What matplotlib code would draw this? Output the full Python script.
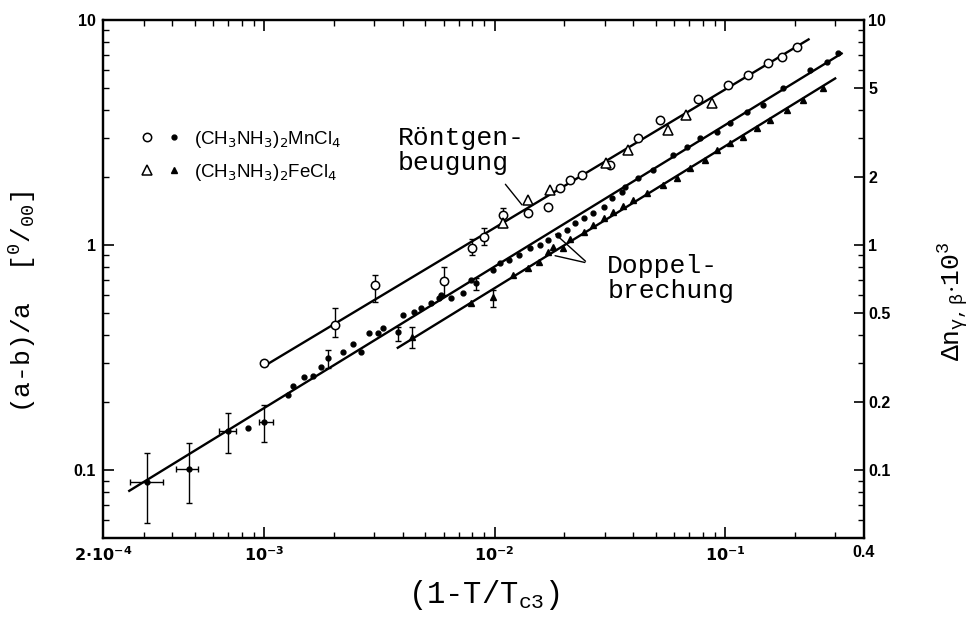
import numpy as np
import matplotlib.pyplot as plt
from matplotlib.ticker import FixedLocator, FixedFormatter, NullFormatter
from matplotlib.legend_handler import HandlerTuple

plt.rcParams['mathtext.fontset'] = 'custom'
plt.rcParams['mathtext.rm'] = 'Liberation Mono'
plt.rcParams['mathtext.it'] = 'Liberation Mono'
plt.rcParams['mathtext.bf'] = 'Liberation Mono:bold'
plt.rcParams['axes.linewidth'] = 1.6

# Roentgenbeugung, (CH3NH3)2MnCl4 (open circles)
mn_xray_x = [1.0e-3, 2.03e-3, 3.03e-3, 6.0e-3, 8.0e-3, 8.95e-3, 0.0109, 0.0139, 0.017,
             0.0193, 0.0213, 0.024, 0.0318, 0.042, 0.0523, 0.0764, 0.103, 0.126,
             0.153, 0.177, 0.205]
mn_xray_y = [0.30, 0.441, 0.664, 0.69, 0.97, 1.09, 1.36, 1.39, 1.47,
             1.79, 1.94, 2.05, 2.27, 2.99, 3.59, 4.46, 5.14, 5.7,
             6.44, 6.85, 7.59]
# error bars of the x-ray points (lower, upper value)
mn_xray_err_x = [2.03e-3, 3.03e-3, 6.0e-3, 8.0e-3, 8.95e-3, 0.0109]
mn_xray_err_y = [0.441, 0.664, 0.69, 0.97, 1.09, 1.36]
mn_xray_err_lo = [0.39, 0.558, 0.60, 0.90, 1.0, 1.2]
mn_xray_err_hi = [0.525, 0.736, 0.80, 1.07, 1.19, 1.46]

# Roentgenbeugung, (CH3NH3)2FeCl4 (open triangles)
fe_xray_x = [0.0109, 0.0139, 0.01746, 0.0303, 0.038, 0.0566, 0.0678, 0.0879]
fe_xray_y = [1.25, 1.58, 1.76, 2.31, 2.64, 3.25, 3.79, 4.28]

# Doppelbrechung, (CH3NH3)2MnCl4 (dots)
mn_bi_x = [8.5e-4, 1.27e-3, 1.34e-3, 1.49e-3, 1.63e-3, 1.77e-3, 2.2e-3, 2.43e-3,
           2.63e-3, 2.85e-3, 3.12e-3, 3.27e-3, 4.0e-3, 4.46e-3, 4.78e-3, 5.29e-3,
           5.73e-3, 5.83e-3, 6.45e-3, 7.27e-3, 7.87e-3, 9.8e-3, 0.0106, 0.0115,
           0.0127, 0.0143, 0.0158, 0.0171, 0.0189, 0.0207, 0.0224, 0.0243, 0.0268,
           0.0297, 0.0324, 0.0358, 0.0369, 0.042, 0.0488, 0.0596, 0.0685, 0.078,
           0.0923, 0.105, 0.124, 0.146, 0.178, 0.233, 0.277, 0.308]
mn_bi_y = [0.154, 0.216, 0.236, 0.259, 0.262, 0.287, 0.334, 0.363,
           0.334, 0.406, 0.406, 0.428, 0.489, 0.504, 0.525, 0.552,
           0.581, 0.60, 0.581, 0.612, 0.699, 0.774, 0.832, 0.857,
           0.903, 0.97, 1.0, 1.05, 1.11, 1.17, 1.25, 1.32, 1.39,
           1.47, 1.62, 1.72, 1.81, 1.99, 2.15, 2.51, 2.73, 2.99,
           3.18, 3.49, 3.9, 4.19, 4.99, 6.0, 6.5, 7.13]
# dots with error crosses
mn_bi_err_x = [3.1e-4, 4.7e-4, 7.0e-4, 1.0e-3, 1.89e-3, 3.8e-3, 8.28e-3]
mn_bi_err_y = [0.0885, 0.101, 0.149, 0.163, 0.315, 0.41, 0.678]
mn_bi_err_ylo = [0.058, 0.0713, 0.119, 0.133, 0.284, 0.376, 0.631]
mn_bi_err_yhi = [0.119, 0.132, 0.179, 0.194, 0.341, 0.433, 0.714]
mn_bi_xerr_x = [3.1e-4, 4.7e-4, 7.0e-4, 1.0e-3]
mn_bi_xerr_y = [0.0885, 0.101, 0.149, 0.163]
mn_bi_err_xlo = [2.61e-4, 4.16e-4, 6.38e-4, 9.5e-4]
mn_bi_err_xhi = [3.66e-4, 5.18e-4, 7.56e-4, 1.09e-3]

# Doppelbrechung, (CH3NH3)2FeCl4 (filled triangles)
fe_bi_x = [7.87e-3, 0.012, 0.014, 0.0155, 0.0171, 0.018, 0.0197, 0.0213, 0.0243,
           0.0268, 0.0297, 0.0327, 0.0361, 0.040, 0.0459, 0.054, 0.062, 0.0705,
           0.0818, 0.0923, 0.105, 0.12, 0.138, 0.157, 0.185, 0.218, 0.265]
fe_bi_y = [0.552, 0.736, 0.791, 0.84, 0.931, 0.98, 0.97, 1.07, 1.14,
           1.23, 1.32, 1.40, 1.49, 1.58, 1.70, 1.85, 1.99, 2.2,
           2.39, 2.64, 2.84, 3.02, 3.31, 3.59, 3.98, 4.41, 4.99]
fe_bi_err_x = [4.38e-3, 9.8e-3]
fe_bi_err_y = [0.39, 0.587]
fe_bi_err_ylo = [0.348, 0.53]
fe_bi_err_yhi = [0.432, 0.631]

# fitted straight lines (end points)
fit_xray_x = [1.0e-3, 0.23]
fit_xray_y = [0.29, 8.2]
fit_mn_x = [2.6e-4, 0.32]
fit_mn_y = [0.081, 7.1]
fit_fe_x = [3.8e-3, 0.30]
fit_fe_y = [0.35, 5.5]

x_major = [2e-4, 1e-3, 1e-2, 1e-1, 0.4]
x_major_labels = [r'$\mathbf{2{\cdot}10^{-4}}$', r'$\mathbf{10^{-3}}$', r'$\mathbf{10^{-2}}$',
                  r'$\mathbf{10^{-1}}$', '0.4']
yl_major = [0.1, 1, 10]
yl_major_labels = ['0.1', '1', '10']
yr_major = [0.1, 0.2, 0.5, 1, 2, 5, 10]
yr_major_labels = ['0.1', '0.2', '0.5', '1', '2', '5', '10']

fig = plt.figure(figsize=(9.8, 6.25), dpi=100)
ax = fig.add_axes([0.1051, 0.1392, 0.7765, 0.8288])
ax.set_xscale('log')
ax.set_yscale('log')

lw_fit = 1.7
ax.plot(fit_xray_x, fit_xray_y, color='black', lw=lw_fit)
ax.plot(fit_mn_x, fit_mn_y, color='black', lw=lw_fit)
ax.plot(fit_fe_x, fit_fe_y, color='black', lw=lw_fit)

# error bars
ax.errorbar(mn_xray_err_x, mn_xray_err_y,
            yerr=[np.array(mn_xray_err_y) - np.array(mn_xray_err_lo),
                  np.array(mn_xray_err_hi) - np.array(mn_xray_err_y)],
            fmt='none', ecolor='black', elinewidth=1.0, capsize=2.5)
ax.errorbar(mn_bi_err_x, mn_bi_err_y,
            yerr=[np.array(mn_bi_err_y) - np.array(mn_bi_err_ylo),
                  np.array(mn_bi_err_yhi) - np.array(mn_bi_err_y)],
            fmt='o', color='black', ms=3.5, elinewidth=1.0, capsize=2.5)
ax.errorbar(mn_bi_xerr_x, mn_bi_xerr_y,
            xerr=[np.array(mn_bi_xerr_x) - np.array(mn_bi_err_xlo),
                  np.array(mn_bi_err_xhi) - np.array(mn_bi_xerr_x)],
            fmt='none', ecolor='black', elinewidth=1.0, capsize=2.5)
ax.errorbar(fe_bi_err_x, fe_bi_err_y,
            yerr=[np.array(fe_bi_err_y) - np.array(fe_bi_err_ylo),
                  np.array(fe_bi_err_yhi) - np.array(fe_bi_err_y)],
            fmt='^', color='black', ms=4, elinewidth=1.0, capsize=2.5)

h_mn_open, = ax.plot(mn_xray_x, mn_xray_y, 'o', ms=6, mfc='white', mec='black', mew=1.1)
h_fe_open, = ax.plot(fe_xray_x, fe_xray_y, '^', ms=6.5, mfc='white', mec='black', mew=1.1)
h_mn_dot, = ax.plot(mn_bi_x, mn_bi_y, 'o', ms=3.5, color='black')
h_fe_tri, = ax.plot(fe_bi_x, fe_bi_y, '^', ms=4.5, color='black')

ax.set_xlim(2e-4, 0.4)
ax.set_ylim(0.05, 10)

# ticks
ax.xaxis.set_major_locator(FixedLocator(x_major))
ax.xaxis.set_major_formatter(FixedFormatter(x_major_labels))
x_minor = [m * 10.0 ** e for e in range(-4, 0) for m in range(2, 10)]
ax.xaxis.set_minor_locator(FixedLocator([v for v in x_minor if 2e-4 < v < 0.4]))
ax.xaxis.set_minor_formatter(NullFormatter())
ax.yaxis.set_major_locator(FixedLocator(yl_major))
ax.yaxis.set_major_formatter(FixedFormatter(yl_major_labels))
y_minor = [m * 10.0 ** e for e in range(-2, 1) for m in range(2, 10)]
ax.yaxis.set_minor_locator(FixedLocator([v for v in y_minor if 0.05 < v < 10]))
ax.yaxis.set_minor_formatter(NullFormatter())
ax.tick_params(which='major', direction='in', length=8, width=1.2, top=True, right=False, pad=5)
ax.tick_params(which='minor', direction='in', length=4, width=1.0, top=True, right=False)

ax2 = ax.twinx()
ax2.set_yscale('log')
ax2.set_ylim(0.05, 10)
ax2.yaxis.set_major_locator(FixedLocator(yr_major))
ax2.yaxis.set_major_formatter(FixedFormatter(yr_major_labels))
ax2.yaxis.set_minor_locator(FixedLocator([v for v in y_minor if 0.05 < v < 10 and v not in yr_major]))
ax2.yaxis.set_minor_formatter(NullFormatter())
ax2.tick_params(which='major', direction='in', length=7, width=1.2, pad=3)
ax2.tick_params(which='minor', direction='in', length=4, width=1.0)

for lab in ax.get_xticklabels() + ax.get_yticklabels() + ax2.get_yticklabels():
    lab.set_fontfamily('Liberation Sans')
    lab.set_fontweight('bold')
    lab.set_fontsize(11.5)
    lab.set_math_fontfamily('dejavusans')

# axis labels
ax.set_xlabel(r'(1-T/T$_{\mathrm{c3}}$)', fontfamily='Liberation Mono', fontsize=22, labelpad=10)
ax.set_ylabel(r'(a-b)/a  [$^{0}$/$_{00}$]', fontfamily='Liberation Mono', fontsize=19)
ax.yaxis.set_label_coords(-0.085, 0.456)
ax2.set_ylabel(r'$\Delta$n$_{\gamma,\beta}$$\cdot$10$^{3}$', fontfamily='Liberation Mono',
               fontsize=19, rotation=90)
ax2.yaxis.set_label_coords(1.095, 0.456)

# annotations
ax.annotate('', xy=(0.01337, 1.476), xytext=(0.01094, 1.905),
            arrowprops=dict(arrowstyle='-', color='black', lw=1.0))
ax.text(3.8e-3, 2.64, 'Röntgen-\nbeugung', fontfamily='Liberation Mono', fontsize=19,
        ha='left', va='center', linespacing=1.05)
ax.annotate('', xy=(0.018, 1.14), xytext=(0.0253, 0.832),
            arrowprops=dict(arrowstyle='-', color='black', lw=1.0))
ax.annotate('', xy=(0.0178, 0.903), xytext=(0.0253, 0.832),
            arrowprops=dict(arrowstyle='-', color='black', lw=1.0))
ax.text(0.0308, 0.713, 'Doppel-\nbrechung', fontfamily='Liberation Mono', fontsize=19,
        ha='left', va='center', linespacing=1.05)

# legend
leg = ax.legend([(h_mn_open, h_mn_dot), (h_fe_open, h_fe_tri)],
                [r'(CH$_3$NH$_3$)$_2$MnCl$_4$', r'(CH$_3$NH$_3$)$_2$FeCl$_4$'],
                handler_map={tuple: HandlerTuple(ndivide=None, pad=0.5)},
                loc='upper left', bbox_to_anchor=(0.046, 0.79), frameon=False,
                borderpad=0, borderaxespad=0, handlelength=2.4, handletextpad=0.6,
                labelspacing=0.65, prop={'family': 'Liberation Sans', 'size': 13.5})
for t in leg.get_texts():
    t.set_math_fontfamily('dejavusans')

fig.savefig('out.png', dpi=100)
